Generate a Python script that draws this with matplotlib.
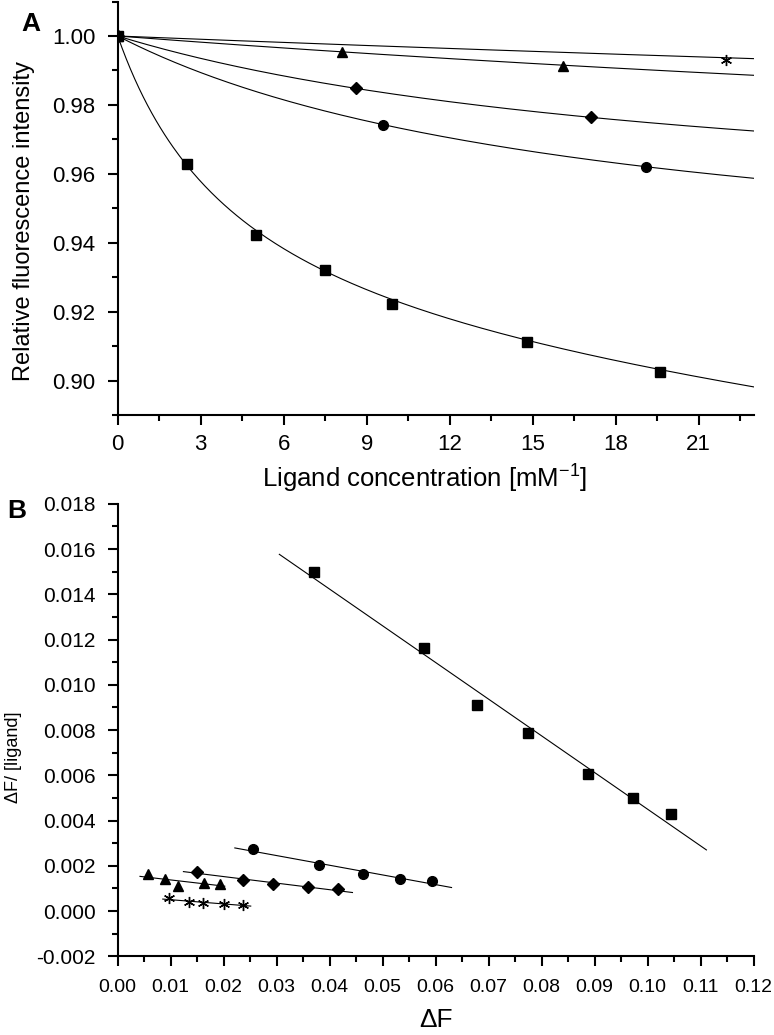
import numpy as np
import matplotlib.pyplot as plt
from matplotlib.ticker import MultipleLocator, FormatStrFormatter

plt.rcParams['font.family'] = ['Liberation Sans', 'DejaVu Sans']

# ---- panel A: relative fluorescence vs ligand concentration ----
conc_sq = [0, 2.5, 5.0, 7.5, 9.9, 14.8, 19.6]
rel_sq = [1.000, 0.9628, 0.9422, 0.9322, 0.9223, 0.9112, 0.9026]
conc_ci = [0, 9.6, 19.1]
rel_ci = [1.000, 0.9743, 0.9621]
conc_di = [0, 8.6, 17.1]
rel_di = [1.000, 0.9848, 0.9764]
conc_tr = [0, 8.1, 16.1]
rel_tr = [1.000, 0.9954, 0.9914]
conc_st = [0, 22.0]
rel_st = [1.000, 0.9930]

# saturation fit parameters (dFmax, Kd, linear term)
fit_dfmax = [0.0995, 0.0729, 0.0537, 0.0585, 0.060]
fit_kd = [4.5, 17.6, 21.8, 95.0, 187.0]
fit_lin = [0.00081, 0.0, 0.0, 0.0, 0.0]

# ---- panel B: Scatchard plot ----
dF_sq = [0.0371, 0.0578, 0.0678, 0.0775, 0.0887, 0.0973, 0.1044]
sc_sq = [0.0150, 0.01163, 0.00912, 0.00787, 0.00605, 0.0050, 0.00431]
dF_ci = [0.0256, 0.0380, 0.0462, 0.0532, 0.0594]
sc_ci = [0.00274, 0.00203, 0.00165, 0.00144, 0.00131]
dF_di = [0.0150, 0.0237, 0.0293, 0.0359, 0.0415]
sc_di = [0.00174, 0.00137, 0.00118, 0.00105, 0.00097]
dF_tr = [0.0058, 0.0089, 0.0113, 0.0163, 0.0193]
sc_tr = [0.00163, 0.00140, 0.00110, 0.00125, 0.00119]
dF_st = [0.0097, 0.0135, 0.0160, 0.0200, 0.0237]
sc_st = [0.00056, 0.00040, 0.00035, 0.00031, 0.00028]

# x-extent of each regression line
line_from = [0.0305, 0.0221, 0.0124, 0.0042, 0.0085]
line_to = [0.1111, 0.0630, 0.0443, 0.0202, 0.0251]

markers = ['s', 'o', 'D', '^', (6, 2, 0)]
msizes = [6.5, 7, 6.2, 7.5, 8]

fig = plt.figure(figsize=(7.74, 10.35), dpi=100)
axA = fig.add_axes([0.1521, 0.5990, 0.8221, 0.3995])
axB = fig.add_axes([0.1521, 0.0760, 0.8215, 0.4372])

seriesA = [(conc_sq, rel_sq), (conc_ci, rel_ci), (conc_di, rel_di),
           (conc_tr, rel_tr), (conc_st, rel_st)]
xx = np.linspace(0, 23, 300)
for i, (c, r) in enumerate(seriesA):
    yy = 1 - fit_dfmax[i] * xx / (fit_kd[i] + xx) - fit_lin[i] * xx
    axA.plot(xx, yy, color='black', lw=0.8)
    axA.plot(c, r, ls='none', marker=markers[i], ms=msizes[i],
             color='black', mew=1.0)

seriesB = [(dF_sq, sc_sq), (dF_ci, sc_ci), (dF_di, sc_di),
           (dF_tr, sc_tr), (dF_st, sc_st)]
for i, (x, y) in enumerate(seriesB):
    k, b = np.polyfit(x, y, 1)
    lx = np.array([line_from[i], line_to[i]])
    axB.plot(lx, k * lx + b, color='black', lw=0.8)
    axB.plot(x, y, ls='none', marker=markers[i], ms=msizes[i],
             color='black', mew=1.0)

for ax in (axA, axB):
    ax.spines['top'].set_visible(False)
    ax.spines['right'].set_visible(False)
    for s in ('left', 'bottom'):
        ax.spines[s].set_linewidth(1.5)
    ax.tick_params(which='major', direction='out', length=7, width=1.5)
    ax.tick_params(which='minor', direction='out', length=4.5, width=1.5)

axA.set_xlim(0, 23)
axA.set_ylim(0.89, 1.01)
axA.xaxis.set_major_locator(MultipleLocator(3))
axA.xaxis.set_minor_locator(MultipleLocator(1.5))
axA.yaxis.set_minor_locator(MultipleLocator(0.01))
axA.set_yticks([0.90, 0.92, 0.94, 0.96, 0.98, 1.00])
axA.yaxis.set_major_formatter(FormatStrFormatter('%.2f'))
axA.tick_params(axis='y', which='major', labelsize=16, pad=9)
axA.tick_params(axis='x', which='major', labelsize=16, pad=7)
axA.set_xlabel(r'Ligand concentration [mM$^{\mathregular{-1}}$]', fontsize=18.5)
axA.set_ylabel('Relative fluorescence intensity', fontsize=17)
axA.xaxis.set_label_coords(0.482, -0.112)
axA.yaxis.set_label_coords(-0.130, 0.47)

axB.set_xlim(0, 0.12)
axB.set_ylim(-0.002, 0.018)
axB.xaxis.set_major_locator(MultipleLocator(0.01))
axB.xaxis.set_minor_locator(MultipleLocator(0.005))
axB.yaxis.set_major_locator(MultipleLocator(0.002))
axB.yaxis.set_minor_locator(MultipleLocator(0.001))
axB.xaxis.set_major_formatter(FormatStrFormatter('%.2f'))
axB.yaxis.set_major_formatter(FormatStrFormatter('%.3f'))
axB.tick_params(axis='x', which='major', labelsize=14, pad=9)
axB.tick_params(axis='y', which='major', labelsize=15, pad=9)
axB.set_xlabel('\u0394F', fontsize=19)
axB.set_ylabel('\u0394F/ [ligand]', fontsize=13)
axB.xaxis.set_label_coords(0.5, -0.115)
axB.yaxis.set_label_coords(-0.1505, 0.44)

fig.text(0.027, 0.988, 'A', fontsize=19, fontweight='bold', va='top', ha='left')
fig.text(0.010, 0.518, 'B', fontsize=19, fontweight='bold', va='top', ha='left')

fig.savefig('out.png', dpi=100)
